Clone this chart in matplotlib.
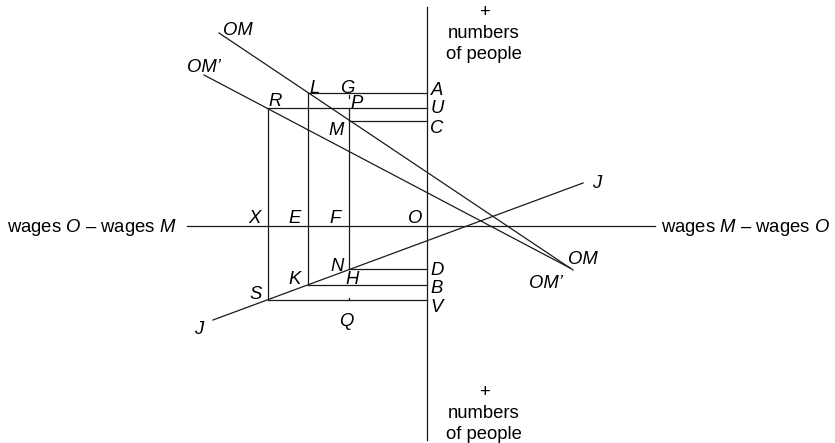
import matplotlib
matplotlib.use('Agg')
import matplotlib.pyplot as plt

plt.rcParams['font.family'] = ['Liberation Sans', 'DejaVu Sans']
plt.rcParams['mathtext.fontset'] = 'custom'
plt.rcParams['mathtext.rm'] = 'Liberation Sans'
plt.rcParams['mathtext.it'] = 'Liberation Sans:italic'

# diagram geometry, in picture units (x right, y down)
origin = (427, 226)
vaxis_y = [7, 440]
haxis_x = [187, 655]

vline_x = [268, 308, 349]
vline_top = [108, 93, 108]
vline_bottom = [300, 285, 269]

hline_y = [93, 108, 121, 269, 285, 300]
hline_start = [308, 268, 349, 349, 308, 268]

om_x, om_y = [219, 573], [33, 270]
omp_x, omp_y = [204, 570], [75, 268]
j_x, j_y = [213, 583], [320, 183]

stub_x = [349, 349]
stub_y = [(95, 97.5), (297.5, 299.5)]

# point labels: text, x, y (baseline)
point_labels = [
    ('OM', 238, 35), ('OM\u2019', 204, 72),
    ('L', 315, 93), ('G', 347, 93), ('A', 437, 95),
    ('R', 275, 106), ('P', 357, 108), ('U', 437, 113),
    ('M', 336, 135), ('C', 437, 133),
    ('X', 255, 223), ('E', 295, 223), ('F', 335, 223), ('O', 415, 223),
    ('N', 337, 271), ('K', 295, 284), ('H', 352, 284), ('S', 256, 299),
    ('D', 437, 275), ('B', 437, 293), ('V', 437, 312),
    ('Q', 346, 326), ('J', 199, 334), ('J', 597, 188),
    ('OM', 583, 264), ('OM\u2019', 546, 288),
]

fig = plt.figure(figsize=(8.35, 4.43), dpi=100)
ax = fig.add_axes([0, 0, 1, 1])
ax.set_xlim(0, 835)
ax.set_ylim(443, 0)
ax.axis('off')

lw = 0.9
c = '#1a1a1a'
tc = 'black'
ax.plot([origin[0], origin[0]], vaxis_y, color=c, lw=lw)
ax.plot(haxis_x, [origin[1], origin[1]], color=c, lw=lw)

for x, t, b in zip(vline_x, vline_top, vline_bottom):
    ax.plot([x, x], [t, b], color=c, lw=lw)
for y, s in zip(hline_y, hline_start):
    ax.plot([s, origin[0]], [y, y], color=c, lw=lw)

ax.plot(om_x, om_y, color=c, lw=lw)
ax.plot(omp_x, omp_y, color=c, lw=lw)
ax.plot(j_x, j_y, color=c, lw=lw)

for x, (y0, y1) in zip(stub_x, stub_y):
    ax.plot([x, x], [y0, y1], color=c, lw=lw)

fs = 13.3
for txt, x, y in point_labels:
    ax.text(x, y, txt, fontsize=fs, style='italic', ha='center', va='baseline', color=tc)

ax.text(7, 232, 'wages $O$ \u2013 wages $M$', fontsize=fs, ha='left', va='baseline', color=tc)
ax.text(830, 232, 'wages $M$ \u2013 wages $O$', fontsize=fs, ha='right', va='baseline', color=tc)

for base in (0, 380):
    ax.text(484, base + 17, '+', fontsize=fs, ha='center', va='baseline', color=tc)
    ax.text(484, base + 38, 'numbers', fontsize=fs, ha='center', va='baseline', color=tc)
    ax.text(484, base + 59, 'of people', fontsize=fs, ha='center', va='baseline', color=tc)

fig.savefig('out.png', dpi=100)
